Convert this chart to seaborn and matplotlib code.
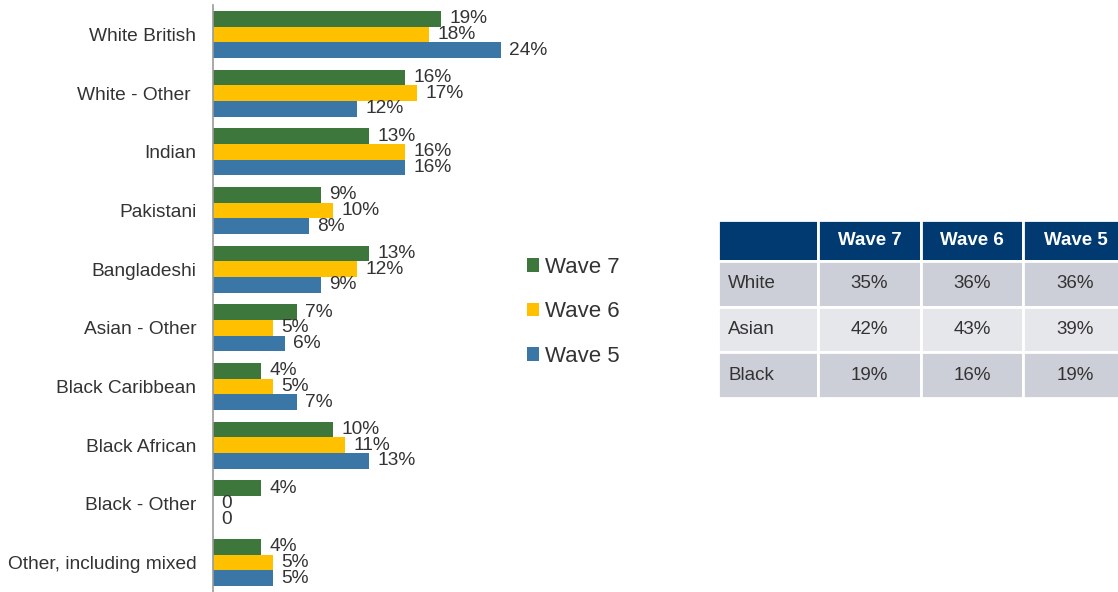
import matplotlib
matplotlib.use("Agg")
import matplotlib.pyplot as plt
import seaborn as sns
import pandas as pd
from matplotlib.patches import Patch

sns.set_theme(style="white")
plt.rcParams['font.family'] = ['Liberation Sans', 'DejaVu Sans']

categories = ["White British", "White - Other ", "Indian", "Pakistani", "Bangladeshi",
              "Asian - Other", "Black Caribbean", "Black African", "Black - Other",
              "Other, including mixed"]
waves = ["Wave 7", "Wave 6", "Wave 5"]
wave7 = [19, 16, 13, 9, 13, 7, 4, 10, 4, 4]
wave6 = [18, 17, 16, 10, 12, 5, 5, 11, 0, 5]
wave5 = [24, 12, 16, 8, 9, 6, 7, 13, 0, 5]
colors = ["#3d773c", "#ffc000", "#3b77a6"]

table_cols = ["", "Wave 7", "Wave 6", "Wave 5"]
table_rows = ["White", "Asian", "Black"]
table_w7 = ["35%", "42%", "19%"]
table_w6 = ["36%", "43%", "16%"]
table_w5 = ["36%", "39%", "19%"]

rows = []
for w, vals in zip(waves, [wave7, wave6, wave5]):
    for c, v in zip(categories, vals):
        rows.append({"cat": c, "wave": w, "val": v})
df = pd.DataFrame(rows)

W, H = 1118, 592
fig = plt.figure(figsize=(W / 100, H / 100), dpi=100)
ax = fig.add_axes([213 / W, 0, 360 / W, 1 - 5 / H])
sns.barplot(data=df, y="cat", x="val", hue="wave", palette=colors, orient="h",
            order=categories, hue_order=waves, width=0.8, ax=ax, legend=False,
            saturation=1, edgecolor="none")
ax.set_xlim(0, 30)
ax.set_ylim(9.5, -0.5)
ax.set_xlabel("")
ax.set_ylabel("")
ax.set_xticks([])
for s in ["top", "right", "bottom"]:
    ax.spines[s].set_visible(False)
ax.spines["left"].set_color("#999999")
ax.spines["left"].set_linewidth(1.2)
ax.tick_params(axis="y", length=0, pad=12, labelsize=13.8, labelcolor="#333333")

for cont in ax.containers:
    labels = [f"{int(b.get_width())}%" if b.get_width() > 0 else "0" for b in cont]
    ax.bar_label(cont, labels=labels, padding=6, fontsize=13.8, color="#333333")

handles = [Patch(facecolor=c, edgecolor="none") for c in colors]
fig.legend(handles, waves, loc="upper left", bbox_to_anchor=(507 / W, 1 - 237 / H),
           frameon=False, fontsize=16, handlelength=0.55, handleheight=0.55,
           handletextpad=0.25, labelspacing=1.05, labelcolor="#333333")

tax = fig.add_axes([718 / W, 1 - 398 / H, 410 / W, 178 / H])
tax.axis("off")
cell_text = [[r, a, b, c] for r, a, b, c in zip(table_rows, table_w7, table_w6, table_w5)]
tbl = tax.table(cellText=cell_text, colLabels=table_cols, bbox=[0, 0, 1, 1],
                colWidths=[100, 103, 102, 105], cellLoc="center")
tbl.auto_set_font_size(False)
row_colors = ["#cdcfd8", "#e6e7eb", "#cdcfd8"]
row_heights = [41, 45.5, 45.5, 46]
for (r, c), cell in tbl.get_celld().items():
    cell.set_edgecolor("white")
    cell.set_linewidth(2)
    txt = cell.get_text()
    txt.set_fontsize(13.5)
    if r == 0:
        cell.set_facecolor("#003a70")
        txt.set_color("white")
        txt.set_fontweight("bold")
    else:
        cell.set_facecolor(row_colors[r - 1])
        txt.set_color("#333333")
        if c == 0:
            cell.set_text_props(ha="left")
            cell.PAD = 0.1

fig.canvas.draw()
total = sum(row_heights)
y = 1.0
for r, h in enumerate(row_heights):
    hf = h / total
    y -= hf
    for c in range(4):
        cell = tbl[r, c]
        cell.set_height(hf)
        cell.set_y(y)

fig.savefig("out.png", dpi=100)
